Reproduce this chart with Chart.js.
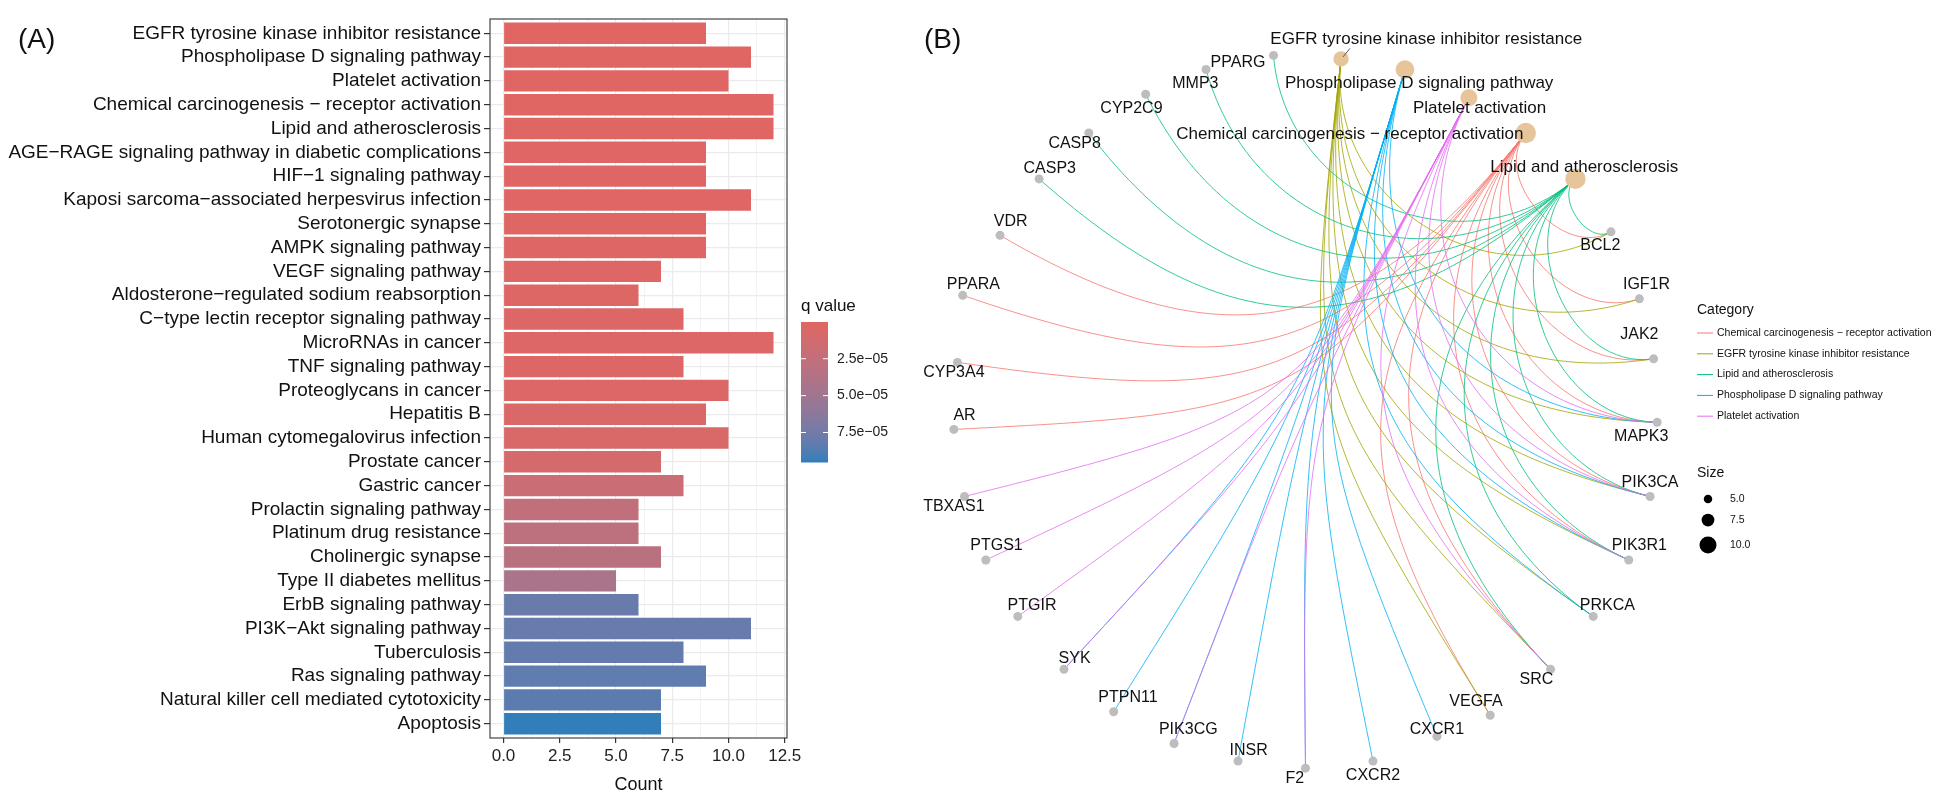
<!DOCTYPE html>
<html lang="en">
<head>
<meta charset="UTF-8">
<title>KEGG enrichment: bar chart and gene-pathway network</title>
<script src="https://cdn.jsdelivr.net/npm/chart.js"></script>
<style>
    body { margin: 0; background: #fff; font-family: "Liberation Sans", Arial, sans-serif; }
    #wrap { position: relative; width: 1948px; height: 807px; overflow: hidden; }
    .panel { position: absolute; top: 0; height: 807px; }
    #boxA { left: 0; width: 930px; }
    #boxB { left: 860px; width: 1088px; }
    .tag { position: absolute; font-size: 28px; line-height: 1; color: #111; }
</style>
</head>
<body>
<div id="wrap">
    <div class="panel" id="boxA"><canvas id="chartA"></canvas></div>
    <div class="panel" id="boxB"><canvas id="chartB"></canvas></div>
    <div class="tag" style="left:18px; top:25px;">(A)</div>
    <div class="tag" style="left:924px; top:25px;">(B)</div>
</div>
<script>
    // ---- panel A data ----
    const pathways = [
        "EGFR tyrosine kinase inhibitor resistance", "Phospholipase D signaling pathway", "Platelet activation",
        "Chemical carcinogenesis \u2212 receptor activation", "Lipid and atherosclerosis",
        "AGE\u2212RAGE signaling pathway in diabetic complications", "HIF\u22121 signaling pathway",
        "Kaposi sarcoma\u2212associated herpesvirus infection", "Serotonergic synapse", "AMPK signaling pathway",
        "VEGF signaling pathway", "Aldosterone\u2212regulated sodium reabsorption", "C\u2212type lectin receptor signaling pathway",
        "MicroRNAs in cancer", "TNF signaling pathway", "Proteoglycans in cancer", "Hepatitis B",
        "Human cytomegalovirus infection", "Prostate cancer", "Gastric cancer", "Prolactin signaling pathway",
        "Platinum drug resistance", "Cholinergic synapse", "Type II diabetes mellitus", "ErbB signaling pathway",
        "PI3K\u2212Akt signaling pathway", "Tuberculosis", "Ras signaling pathway",
        "Natural killer cell mediated cytotoxicity", "Apoptosis"
    ];
    const counts = [9, 11, 10, 12, 12, 9, 9, 11, 9, 9, 7, 6, 8, 12, 8, 10, 9, 10, 7, 8, 6, 6, 7, 5, 6, 11, 8, 9, 7, 7];
    const qValues = [1e-7, 2e-7, 3e-7, 4e-7, 5e-7, 8e-7, 1e-6, 1.3e-6, 1.6e-6, 1.9e-6, 2.2e-6, 2.6e-6, 3e-6,
        3.4e-6, 3.8e-6, 4.3e-6, 5e-6, 6e-6, 1.0e-5, 1.9e-5, 2.6e-5, 2.9e-5, 3.1e-5, 4.3e-5, 7.9e-5,
        8.0e-5, 8.1e-5, 8.2e-5, 8.4e-5, 9.5e-5];
    const xMajorTicks = [0, 2.5, 5, 7.5, 10, 12.5];
    const xMinorTicks = [1.25, 3.75, 6.25, 8.75, 11.25];
    const qTicks = [2.5e-5, 5e-5, 7.5e-5];
    const qTickLabels = ["2.5e\u221205", "5.0e\u221205", "7.5e\u221205"];

    // ---- panel B data (layout units, circle radius ~1) ----
    const genes = ["PPARG", "MMP3", "CYP2C9", "CASP8", "CASP3", "VDR", "PPARA", "CYP3A4", "AR", "TBXAS1",
        "PTGS1", "PTGIR", "SYK", "PTPN11", "PIK3CG", "INSR", "F2", "CXCR2", "CXCR1", "VEGFA", "SRC",
        "PRKCA", "PIK3R1", "PIK3CA", "MAPK3", "JAK2", "IGF1R", "BCL2"];
    const geneX = [-0.08, -0.27, -0.44, -0.60, -0.74, -0.85, -0.955, -0.97, -0.98, -0.95, -0.89, -0.80, -0.67,
        -0.53, -0.36, -0.18, 0.01, 0.20, 0.38, 0.53, 0.70, 0.82, 0.92, 0.98, 1.00, 0.99, 0.95, 0.87];
    const geneY = [1.01, 0.97, 0.90, 0.79, 0.66, 0.50, 0.33, 0.14, -0.05, -0.24, -0.42, -0.58, -0.73,
        -0.85, -0.94, -0.99, -1.01, -0.99, -0.92, -0.86, -0.73, -0.58, -0.42, -0.24, -0.03, 0.15, 0.32, 0.51];
    const geneLabelX = [-0.18, -0.30, -0.48, -0.64, -0.71, -0.82, -0.925, -0.98, -0.95, -0.98, -0.86, -0.76, -0.64,
        -0.49, -0.32, -0.15, -0.02, 0.20, 0.38, 0.49, 0.66, 0.86, 0.95, 0.98, 0.955, 0.95, 0.97, 0.84];
    const geneLabelY = [0.99, 0.93, 0.86, 0.76, 0.69, 0.54, 0.36, 0.11, -0.01, -0.27, -0.38, -0.55, -0.70,
        -0.81, -0.90, -0.96, -1.04, -1.03, -0.90, -0.82, -0.76, -0.55, -0.38, -0.20, -0.07, 0.22, 0.36, 0.47];

    const categories = ["Chemical carcinogenesis \u2212 receptor activation", "EGFR tyrosine kinase inhibitor resistance",
        "Lipid and atherosclerosis", "Phospholipase D signaling pathway", "Platelet activation"];
    const catColors = ["#F8766D", "#A3A500", "#00BF7D", "#00B0F6", "#E76BF3"];
    const catX = [0.63, 0.11, 0.77, 0.29, 0.47];
    const catY = [0.79, 1.00, 0.66, 0.97, 0.89];
    const catLabelX = [0.135, 0.35, 0.795, 0.33, 0.50];
    const catLabelY = [0.787, 1.056, 0.694, 0.93, 0.86];
    const catCounts = [12, 9, 12, 11, 10];
    const sizeBreaks = [5, 7.5, 10];

    const chemGenes = ["VDR", "PPARA", "CYP3A4", "AR", "BCL2", "IGF1R", "JAK2", "MAPK3", "PIK3CA", "PIK3R1", "SRC", "VEGFA"];
    const egfrGenes = ["IGF1R", "JAK2", "MAPK3", "PIK3CA", "PIK3R1", "PRKCA", "SRC", "VEGFA", "BCL2"];
    const lipidGenes = ["PPARG", "MMP3", "CYP2C9", "CASP8", "CASP3", "BCL2", "JAK2", "MAPK3", "PIK3CA", "PIK3R1", "SRC", "PRKCA"];
    const pldGenes = ["INSR", "PTPN11", "PIK3CA", "PIK3R1", "PIK3CG", "MAPK3", "PRKCA", "CXCR1", "CXCR2", "SYK", "F2"];
    const plateletGenes = ["TBXAS1", "PTGS1", "PTGIR", "SYK", "PIK3CG", "F2", "PIK3CA", "PIK3R1", "SRC", "MAPK3"];
    const catGenes = [chemGenes, egfrGenes, lipidGenes, pldGenes, plateletGenes];

    Chart.defaults.font.family = '"Liberation Sans", Arial, sans-serif';

    // q value colour: ggplot style gradient, interpolated in Lab
    const lowColor = "#e06663", highColor = "#327eba";
    function toLinear(c) { c /= 255; return c <= 0.04045 ? c / 12.92 : Math.pow((c + 0.055) / 1.055, 2.4); }
    function toSrgb(c) {
        c = c <= 0.0031308 ? 12.92 * c : 1.055 * Math.pow(c, 1 / 2.4) - 0.055;
        return Math.round(Math.max(0, Math.min(1, c)) * 255);
    }
    function hexToLab(h) {
        const [r, g, b] = [1, 3, 5].map(i => toLinear(parseInt(h.substr(i, 2), 16)));
        const X = (0.4124 * r + 0.3576 * g + 0.1805 * b) / 0.95047;
        const Y = 0.2126 * r + 0.7152 * g + 0.0722 * b;
        const Z = (0.0193 * r + 0.1192 * g + 0.9505 * b) / 1.08883;
        const f = t => t > 0.008856 ? Math.cbrt(t) : 7.787 * t + 16 / 116;
        return [116 * f(Y) - 16, 500 * (f(X) - f(Y)), 200 * (f(Y) - f(Z))];
    }
    function labToCss(L, a, b) {
        const fy = (L + 16) / 116, fx = fy + a / 500, fz = fy - b / 200;
        const inv = t => t * t * t > 0.008856 ? t * t * t : (t - 16 / 116) / 7.787;
        const X = inv(fx) * 0.95047, Y = inv(fy), Z = inv(fz) * 1.08883;
        const r = 3.2406 * X - 1.5372 * Y - 0.4986 * Z;
        const g = -0.9689 * X + 1.8758 * Y + 0.0415 * Z;
        const bb = 0.0557 * X - 0.2040 * Y + 1.0570 * Z;
        return "rgb(" + [r, g, bb].map(toSrgb).join(",") + ")";
    }
    const labLow = hexToLab(lowColor), labHigh = hexToLab(highColor);
    const qMin = Math.min(...qValues), qMax = Math.max(...qValues);
    function qColor(q) {
        const t = (q - qMin) / (qMax - qMin);
        return labToCss(labLow[0] + (labHigh[0] - labLow[0]) * t,
                        labLow[1] + (labHigh[1] - labLow[1]) * t,
                        labLow[2] + (labHigh[2] - labLow[2]) * t);
    }

    // panel border (theme_bw)
    const panelBorder = {
        id: "panelBorder",
        afterDatasetsDraw(chart) {
            const a = chart.chartArea, ctx = chart.ctx;
            ctx.save();
            ctx.strokeStyle = "#333";
            ctx.lineWidth = 1.1;
            ctx.strokeRect(a.left, a.top, a.right - a.left, a.bottom - a.top);
            ctx.restore();
        }
    };

    // q value colour bar
    const colorBar = {
        id: "colorBar",
        afterDraw(chart) {
            const ctx = chart.ctx;
            const left = 801, top = 322, w = 27, h = 140;
            ctx.save();
            for (let i = 0; i < h; i++) {
                ctx.fillStyle = qColor(qMin + (qMax - qMin) * i / (h - 1));
                ctx.fillRect(left, top + i, w, 1.5);
            }
            ctx.font = '17px "Liberation Sans", Arial';
            ctx.fillStyle = "#111";
            ctx.textBaseline = "middle";
            ctx.fillText("q value", 801, 306);
            ctx.font = '14px "Liberation Sans", Arial';
            ctx.fillStyle = "#222";
            ctx.strokeStyle = "#fff";
            ctx.lineWidth = 1;
            qTicks.forEach((q, i) => {
                const yy = top + (q - qMin) / (qMax - qMin) * h;
                ctx.beginPath();
                ctx.moveTo(left, yy); ctx.lineTo(left + 5, yy);
                ctx.moveTo(left + w - 5, yy); ctx.lineTo(left + w, yy);
                ctx.stroke();
                ctx.fillText(qTickLabels[i], 837, yy);
            });
            ctx.restore();
        }
    };

    new Chart(document.getElementById("chartA"), {
        type: "bar",
        data: {
            datasets: [{
                data: counts.map((c, i) => ({ x: c, y: i + 1 })),
                backgroundColor: qValues.map(q => qColor(q)),
                borderWidth: 0,
                barPercentage: 0.9,
                categoryPercentage: 1
            }]
        },
        options: {
            indexAxis: "y",
            animation: false,
            responsive: true,
            maintainAspectRatio: false,
            layout: { padding: { top: 19, right: 143, left: 0, bottom: 0 } },
            plugins: { legend: { display: false }, tooltip: { enabled: false } },
            scales: {
                x: {
                    type: "linear",
                    min: -0.6,
                    max: 12.6,
                    afterBuildTicks: s => { s.ticks = xMajorTicks.concat(xMinorTicks).sort((a, b) => a - b).map(v => ({ value: v })); },
                    afterFit: s => { s.height = 69; },
                    ticks: {
                        autoSkip: false,
                        maxRotation: 0,
                        padding: 3,
                        color: "#222",
                        font: { size: 17 },
                        callback: v => xMajorTicks.includes(v) ? v.toFixed(1) : ""
                    },
                    grid: {
                        color: "#EBEBEB",
                        lineWidth: c => (c.tick && xMajorTicks.includes(c.tick.value)) ? 1.2 : 0.6,
                        tickColor: c => (c.tick && xMajorTicks.includes(c.tick.value)) ? "#333" : "rgba(0,0,0,0)",
                        tickLength: 5
                    },
                    border: { display: false },
                    title: { display: true, text: "Count", color: "#111", font: { size: 18 }, padding: { top: 2, bottom: 11 } }
                },
                y: {
                    type: "linear",
                    min: 0.4,
                    max: 30.6,
                    reverse: true,
                    offset: false,
                    afterBuildTicks: s => { s.ticks = pathways.map((p, i) => ({ value: i + 1 })); },
                    afterFit: s => { s.width = 490; },
                    ticks: {
                        autoSkip: false,
                        padding: 3,
                        color: "#111",
                        font: { size: 19 },
                        callback: v => pathways[v - 1]
                    },
                    grid: { offset: false, color: "#EBEBEB", lineWidth: 1.2, tickColor: "#333", tickLength: 6 },
                    border: { display: false }
                }
            }
        },
        plugins: [panelBorder, colorBar]
    });

    // ---- panel B: network on a circle ----
    const bendFactor = 1.35;
    function radiusForSize(v) { return 0.85 * v; }

    const edgePlugin = {
        id: "edges",
        beforeDatasetsDraw(chart) {
            const ctx = chart.ctx, xs = chart.scales.x, ys = chart.scales.y;
            const cx = xs.getPixelForValue(0), cy = ys.getPixelForValue(0);
            ctx.save();
            ctx.lineWidth = 1;
            ctx.globalAlpha = 0.8;
            categories.forEach((cat, ci) => {
                const ax = xs.getPixelForValue(catX[ci]), ay = ys.getPixelForValue(catY[ci]);
                catGenes[ci].forEach(g => {
                    const gi = genes.indexOf(g);
                    const bx = xs.getPixelForValue(geneX[gi]), by = ys.getPixelForValue(geneY[gi]);
                    let d = Math.abs(Math.atan2(ay - cy, ax - cx) - Math.atan2(by - cy, bx - cx));
                    if (d > Math.PI) d = 2 * Math.PI - d;
                    // arcs bend towards the centre, more for nodes far apart
                    const f = Math.max(0, 1 - bendFactor * d / Math.PI);
                    ctx.strokeStyle = catColors[ci];
                    ctx.beginPath();
                    ctx.moveTo(ax, ay);
                    ctx.bezierCurveTo(cx + (ax - cx) * f, cy + (ay - cy) * f,
                                      cx + (bx - cx) * f, cy + (by - cy) * f, bx, by);
                    ctx.stroke();
                });
            });
            ctx.restore();
        }
    };

    const labelPlugin = {
        id: "nodeLabels",
        afterDatasetsDraw(chart) {
            const ctx = chart.ctx, xs = chart.scales.x, ys = chart.scales.y;
            ctx.save();
            ctx.textAlign = "center";
            ctx.textBaseline = "middle";
            ctx.fillStyle = "#111";
            ctx.font = '16px "Liberation Sans", Arial';
            genes.forEach((g, i) => {
                ctx.fillText(g, xs.getPixelForValue(geneLabelX[i]), ys.getPixelForValue(geneLabelY[i]));
            });
            // leader line for the EGFR label
            ctx.strokeStyle = "#333";
            ctx.lineWidth = 0.8;
            ctx.beginPath();
            ctx.moveTo(xs.getPixelForValue(catX[1]) + 9, ys.getPixelForValue(1.03));
            ctx.lineTo(xs.getPixelForValue(catX[1]) + 2, ys.getPixelForValue(catY[1]) - 2);
            ctx.stroke();
            ctx.font = '17px "Liberation Sans", Arial';
            categories.forEach((c, i) => {
                ctx.fillText(c, xs.getPixelForValue(catLabelX[i]), ys.getPixelForValue(catLabelY[i]));
            });
            ctx.restore();
        }
    };

    const legendPlugin = {
        id: "networkLegend",
        afterDraw(chart) {
            const ctx = chart.ctx;
            const lx = 837;
            ctx.save();
            ctx.textBaseline = "middle";
            ctx.fillStyle = "#111";
            ctx.font = '14px "Liberation Sans", Arial';
            ctx.fillText("Category", lx, 310);
            ctx.font = '10.5px "Liberation Sans", Arial';
            categories.forEach((c, i) => {
                const yy = 333 + i * 20.8;
                ctx.strokeStyle = catColors[i];
                ctx.lineWidth = 1;
                ctx.beginPath();
                ctx.moveTo(lx, yy); ctx.lineTo(lx + 16, yy);
                ctx.stroke();
                ctx.fillStyle = "#111";
                ctx.fillText(c, lx + 20, yy);
            });
            ctx.font = '14px "Liberation Sans", Arial';
            ctx.fillText("Size", lx, 473);
            ctx.font = '10.5px "Liberation Sans", Arial';
            const keyY = [499, 520, 545];
            sizeBreaks.forEach((s, i) => {
                ctx.fillStyle = "#000";
                ctx.beginPath();
                ctx.arc(lx + 11, keyY[i], radiusForSize(s), 0, Math.PI * 2);
                ctx.fill();
                ctx.fillStyle = "#111";
                ctx.fillText(s.toFixed(1), lx + 33, keyY[i]);
            });
            ctx.restore();
        }
    };

    new Chart(document.getElementById("chartB"), {
        type: "scatter",
        data: {
            datasets: [
                {
                    data: genes.map((g, i) => ({ x: geneX[i], y: geneY[i] })),
                    pointRadius: 4.5,
                    pointBackgroundColor: "#BDBDBD",
                    pointBorderWidth: 0
                },
                {
                    data: categories.map((c, i) => ({ x: catX[i], y: catY[i] })),
                    pointRadius: catCounts.map(radiusForSize),
                    pointBackgroundColor: "#E6C59A",
                    pointBorderWidth: 0
                }
            ]
        },
        options: {
            animation: false,
            responsive: true,
            maintainAspectRatio: false,
            layout: { padding: 0 },
            plugins: { legend: { display: false }, tooltip: { enabled: false } },
            scales: {
                x: { type: "linear", min: -1.2155, max: 1.7901, display: false },
                y: { type: "linear", min: -1.0912, max: 1.1381, display: false }
            }
        },
        plugins: [edgePlugin, labelPlugin, legendPlugin]
    });
</script>
</body>
</html>
